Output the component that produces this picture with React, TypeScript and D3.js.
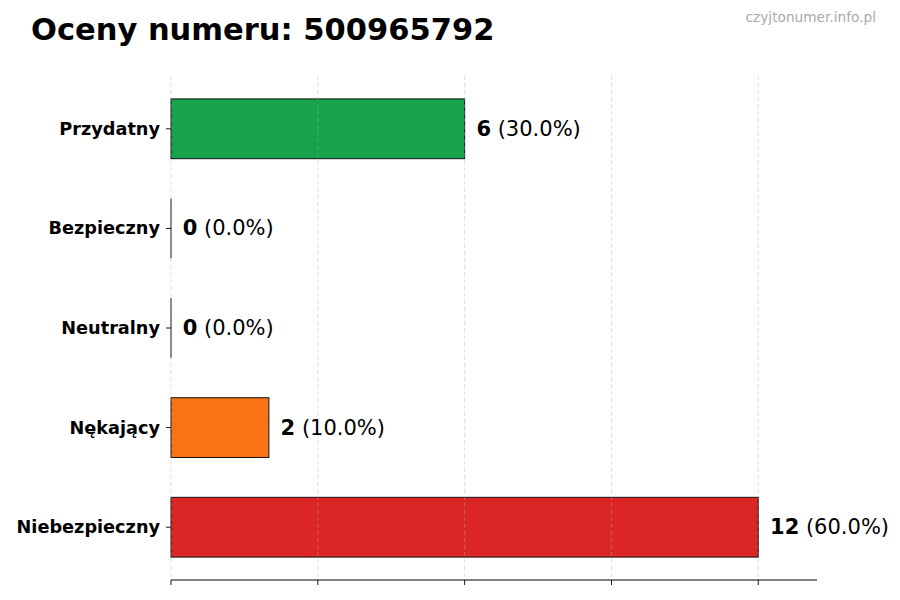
import * as d3 from 'd3';

const CATEGORIES = ['Przydatny', 'Bezpieczny', 'Neutralny', 'Nękający', 'Niebezpieczny'];
const COUNTS = [6, 0, 0, 2, 12];
const COLORS = ['#16a34a', '#2563eb', '#6b7280', '#f97316', '#dc2626'];
const X_TICKS = [0, 3, 6, 9, 12];

const TITLE = 'Oceny numeru: 500965792';
const WATERMARK = 'czyjtonumer.info.pl';

const FONT = '"DejaVu Sans", sans-serif';

export default function App() {
  const W = 900;
  const H = 600;
  const plot = { left: 171, right: 817, top: 76, bottom: 580 };

  const total = d3.sum(COUNTS);
  const maxV = d3.max(COUNTS) ?? 1;

  const x = d3.scaleLinear().domain([0, maxV * 1.1]).range([plot.left, plot.right]);
  // matplotlib-style: bars at 0..n-1, height 0.6, 5% margins
  const n = CATEGORIES.length;
  const lo = -0.3 - 0.05 * (n - 1 + 0.6);
  const hi = n - 1 + 0.3 + 0.05 * (n - 1 + 0.6);
  const y = d3.scaleLinear().domain([lo, hi]).range([plot.top, plot.bottom]);
  const barH = y(0.6) - y(0);

  return (
    <svg width={W} height={H} style={{ position: 'absolute', left: 0, top: 0, background: '#fff' }}>
      <rect x={0} y={0} width={W} height={H} fill="#fff" />

      {/* Bars (zero-width bars still show their edge) */}
      {CATEGORIES.map((c, i) => (
        COUNTS[i] > 0 ? (
          <rect
            key={c}
            x={x(0)} y={y(i) - barH / 2}
            width={x(COUNTS[i]) - x(0)} height={barH}
            fill={COLORS[i]} stroke="#111" strokeWidth={1}
          />
        ) : (
          <line
            key={c}
            x1={x(0)} x2={x(0)} y1={y(i) - barH / 2} y2={y(i) + barH / 2}
            stroke="#111" strokeWidth={1}
          />
        )
      ))}

      {/* Grid, drawn over bars like the original */}
      {X_TICKS.map(t => (
        <line
          key={`g-${t}`}
          x1={x(t)} x2={x(t)} y1={plot.top} y2={plot.bottom}
          stroke="#b0b0b0" strokeOpacity={0.5} strokeWidth={0.8} strokeDasharray="4 3"
        />
      ))}

      {/* Value labels */}
      {CATEGORIES.map((c, i) => (
        <text
          key={`v-${c}`}
          x={x(COUNTS[i] + maxV * 0.02)} y={y(i)}
          dominantBaseline="central" fontFamily={FONT} fontSize={21} fill="#000"
        >
          <tspan fontWeight="bold">{COUNTS[i]}</tspan>
          {` (${((COUNTS[i] / total) * 100).toFixed(1)}%)`}
        </text>
      ))}

      {/* Y ticks and labels */}
      {CATEGORIES.map((c, i) => (
        <g key={`y-${c}`}>
          <line x1={plot.left - 5} x2={plot.left} y1={y(i)} y2={y(i)} stroke="#000" strokeWidth={0.9} />
          <text
            x={plot.left - 11} y={y(i)}
            textAnchor="end" dominantBaseline="central"
            fontFamily={FONT} fontSize={17.7} fontWeight="bold" fill="#000"
          >
            {c}
          </text>
        </g>
      ))}

      {/* X axis */}
      <line x1={plot.left} x2={plot.right} y1={plot.bottom} y2={plot.bottom} stroke="#000" strokeWidth={1} />
      {X_TICKS.map(t => (
        <line key={`t-${t}`} x1={x(t)} x2={x(t)} y1={plot.bottom} y2={plot.bottom + 5} stroke="#000" strokeWidth={0.9} />
      ))}

      {/* Title */}
      <text x={31} y={40} fontFamily={FONT} fontSize={30.5} fontWeight="bold" fill="#000">
        {TITLE}
      </text>
      <text x={876} y={22} textAnchor="end" fontFamily={FONT} fontSize={13.7} fill="#aaaaaa">
        {WATERMARK}
      </text>
    </svg>
  );
}
